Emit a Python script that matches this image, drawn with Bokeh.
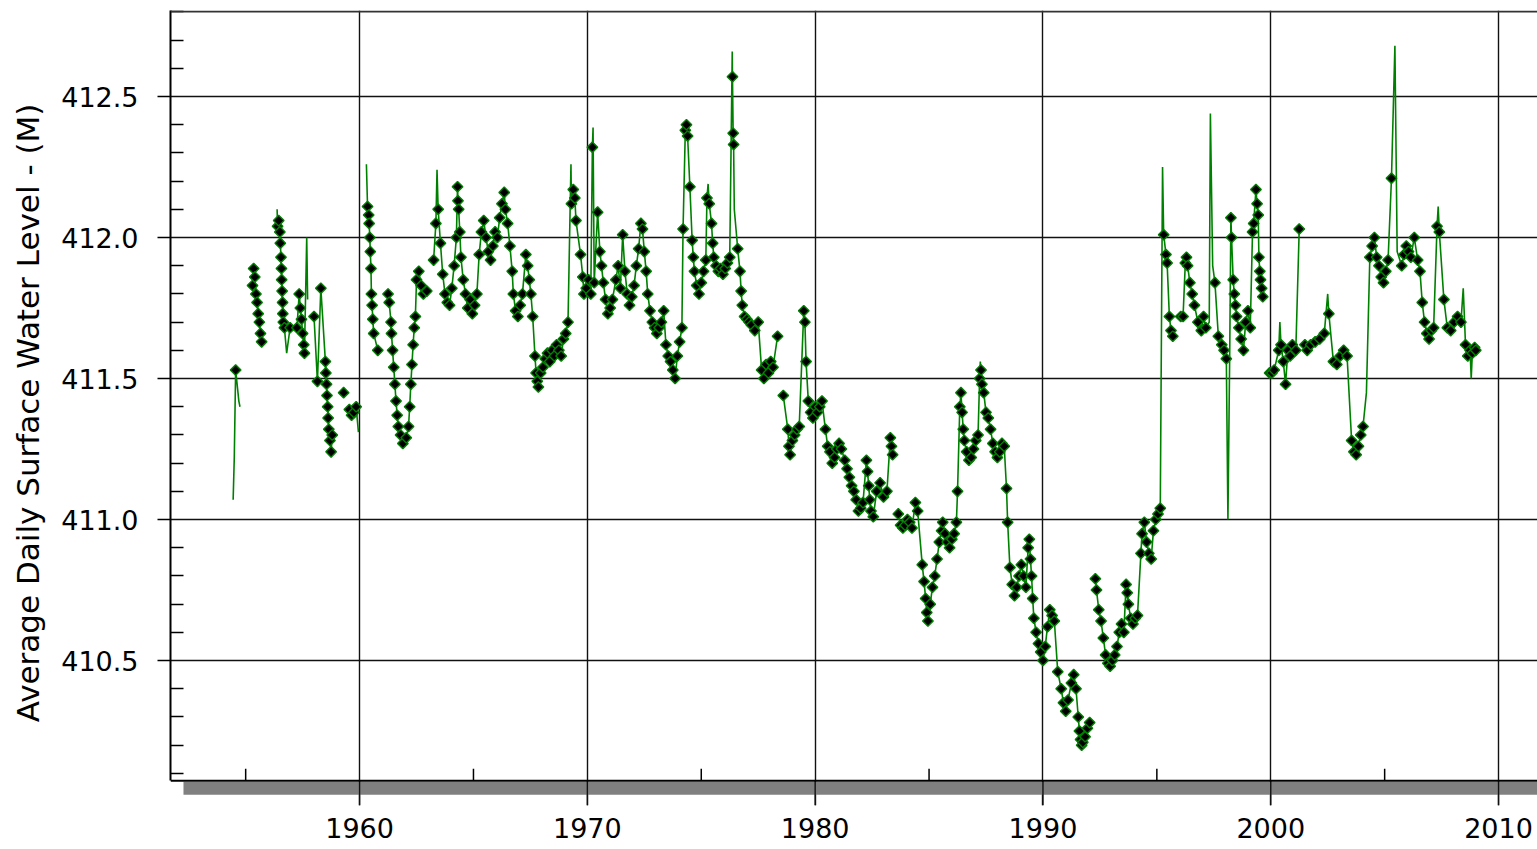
import math
from bokeh.plotting import figure
from bokeh.models import FixedTicker, Span, Range1d, PrintfTickFormatter
from bokeh.embed import file_html
from bokeh.resources import INLINE

# ---------------- ticks ----------------
x_major_ticks = [1960, 1970, 1980, 1990, 2000, 2010]
x_minor_ticks = [1955, 1965, 1975, 1985, 1995, 2005]
y_major_ticks = [410.5, 411.0, 411.5, 412.0, 412.5]
y_minor_ticks = [410.1, 410.2, 410.3, 410.4, 410.6, 410.7, 410.8, 410.9,
                 411.1, 411.2, 411.3, 411.4, 411.6, 411.7, 411.8, 411.9,
                 412.1, 412.2, 412.3, 412.4, 412.6, 412.7, 412.8]

# ---------------- data ----------------
marker_year = [
    1954.56,
    1955.30, 1955.35, 1955.40, 1955.45, 1955.50, 1955.55, 1955.60, 1955.65, 1955.70,
    1956.40, 1956.45, 1956.50, 1956.52, 1956.55, 1956.57, 1956.58, 1956.60, 1956.62, 1956.63, 1956.65, 1956.70, 1956.95,
    1957.25, 1957.35, 1957.40, 1957.45, 1957.50, 1957.55, 1957.58,
    1958.00, 1958.15, 1958.30, 1958.50, 1958.52, 1958.55, 1958.57, 1958.60, 1958.62, 1958.65, 1958.70, 1958.75, 1958.80,
    1959.30, 1959.55, 1959.65, 1959.75, 1959.85,
    1960.35, 1960.40, 1960.42, 1960.45, 1960.47, 1960.50, 1960.52, 1960.55, 1960.58, 1960.62, 1960.80,
    1961.25, 1961.30, 1961.38, 1961.40, 1961.45, 1961.50, 1961.55, 1961.60, 1961.65, 1961.70, 1961.80, 1961.90,
    1962.05, 1962.15, 1962.20, 1962.25, 1962.30, 1962.35, 1962.40, 1962.45, 1962.50, 1962.60, 1962.70, 1962.80, 1962.95,
    1963.25, 1963.35, 1963.45, 1963.55, 1963.65, 1963.75, 1963.85, 1963.95, 1964.05, 1964.15,
    1964.25, 1964.30, 1964.32, 1964.35, 1964.40, 1964.45, 1964.55, 1964.65, 1964.75, 1964.85, 1964.95, 1965.05, 1965.15,
    1965.25, 1965.35, 1965.45, 1965.55, 1965.65, 1965.75, 1965.85, 1965.95, 1966.05,
    1966.15, 1966.25, 1966.35, 1966.40, 1966.50, 1966.60, 1966.70, 1966.75, 1966.85, 1966.95, 1967.05, 1967.15,
    1967.30, 1967.38, 1967.45, 1967.52, 1967.60, 1967.70, 1967.75, 1967.80, 1967.85, 1967.95,
    1968.05, 1968.15, 1968.25, 1968.35, 1968.45, 1968.55, 1968.65, 1968.75, 1968.85, 1968.95, 1969.05, 1969.15,
    1969.30, 1969.38, 1969.45, 1969.50, 1969.70, 1969.80, 1969.85, 1969.95,
    1970.05, 1970.15, 1970.22, 1970.30, 1970.45, 1970.55, 1970.62, 1970.70, 1970.80, 1970.90, 1971.00, 1971.10, 1971.25, 1971.35,
    1971.45, 1971.55, 1971.65, 1971.75, 1971.85, 1971.95, 1972.05, 1972.15, 1972.25, 1972.35, 1972.42,
    1972.50, 1972.58, 1972.65, 1972.75, 1972.85, 1972.95, 1973.05, 1973.15, 1973.25, 1973.35, 1973.45, 1973.55, 1973.65,
    1973.75, 1973.85, 1973.95, 1974.05, 1974.15,
    1974.20, 1974.30, 1974.35, 1974.40, 1974.50, 1974.60, 1974.65, 1974.70, 1974.80, 1974.90, 1975.00, 1975.10, 1975.20,
    1975.25, 1975.35, 1975.45, 1975.50, 1975.55, 1975.65, 1975.75, 1975.85, 1975.95, 1976.05, 1976.15, 1976.25,
    1976.37, 1976.40, 1976.42, 1976.60, 1976.70, 1976.75, 1976.80, 1976.90, 1977.00, 1977.10, 1977.20, 1977.35, 1977.50,
    1977.65, 1977.75, 1977.85, 1977.95, 1978.05, 1978.15,
    1978.35, 1978.60, 1978.80, 1978.85, 1978.90, 1979.00, 1979.10, 1979.20, 1979.30,
    1979.50, 1979.55, 1979.60, 1979.70, 1979.80, 1979.90, 1980.00, 1980.10, 1980.20, 1980.30,
    1980.45, 1980.55, 1980.65, 1980.75, 1980.85, 1980.95, 1981.05, 1981.15,
    1981.30, 1981.40, 1981.50, 1981.60, 1981.70, 1981.80, 1981.90, 1982.00, 1982.10,
    1982.25, 1982.30, 1982.35, 1982.40, 1982.45, 1982.55, 1982.70, 1982.85, 1983.00, 1983.15,
    1983.30, 1983.35, 1983.40, 1983.65, 1983.75, 1983.85, 1983.95, 1984.05, 1984.15, 1984.25, 1984.40, 1984.50,
    1984.70, 1984.78, 1984.85, 1984.90, 1984.95, 1985.05, 1985.15, 1985.25, 1985.35, 1985.45, 1985.55, 1985.60,
    1985.70, 1985.80, 1985.90, 1986.00, 1986.10, 1986.20,
    1986.25, 1986.35, 1986.40, 1986.45, 1986.50, 1986.55, 1986.65, 1986.75, 1986.85, 1986.95, 1987.05, 1987.15,
    1987.22, 1987.28, 1987.32, 1987.40, 1987.50, 1987.60, 1987.70, 1987.80, 1987.90, 1988.00, 1988.10, 1988.20, 1988.30,
    1988.40, 1988.45, 1988.55, 1988.65, 1988.75, 1988.85, 1988.95, 1989.05, 1989.15, 1989.25, 1989.35, 1989.40, 1989.45, 1989.50,
    1989.55, 1989.60, 1989.70, 1989.80, 1989.90, 1990.00, 1990.10,
    1990.20, 1990.30, 1990.40, 1990.50, 1990.65, 1990.80, 1990.90, 1991.00, 1991.10, 1991.25, 1991.35, 1991.45, 1991.55,
    1991.60, 1991.65, 1991.70, 1991.75, 1991.85, 1991.95, 1992.05,
    1992.30, 1992.35, 1992.45, 1992.55, 1992.65, 1992.75, 1992.85, 1992.95, 1993.05, 1993.15, 1993.25,
    1993.35, 1993.45, 1993.55, 1993.65, 1993.70, 1993.75, 1993.85, 1993.95, 1994.05, 1994.15,
    1994.30, 1994.35, 1994.45, 1994.55, 1994.65, 1994.75, 1994.85, 1994.95, 1995.05, 1995.15,
    1995.30, 1995.40, 1995.45, 1995.55, 1995.62, 1995.70, 1996.05, 1996.15,
    1996.25, 1996.30, 1996.35, 1996.45, 1996.55, 1996.65, 1996.80, 1996.95, 1997.05, 1997.15,
    1997.55, 1997.70, 1997.85, 1997.95, 1998.05,
    1998.25, 1998.28, 1998.35, 1998.40, 1998.45, 1998.50, 1998.60, 1998.70, 1998.80, 1998.90, 1999.00, 1999.10,
    1999.20, 1999.25, 1999.35, 1999.40, 1999.45, 1999.48, 1999.52, 1999.55, 1999.60, 1999.65,
    1999.95, 2000.05, 2000.15, 2000.35, 2000.45, 2000.55, 2000.65, 2000.75, 2000.85, 2000.95, 2001.10,
    2001.25, 2001.50, 2001.60, 2001.75, 2001.95, 2002.15, 2002.35, 2002.55, 2002.75, 2002.90, 2003.05, 2003.20, 2003.35,
    2003.55, 2003.65, 2003.75, 2003.85, 2003.95, 2004.05,
    2004.35, 2004.45, 2004.55, 2004.65, 2004.75, 2004.85, 2004.95, 2005.05, 2005.15, 2005.30,
    2005.75, 2005.85, 2005.95, 2006.05, 2006.15, 2006.30, 2006.45, 2006.55,
    2006.65, 2006.75, 2006.85, 2006.95, 2007.05, 2007.15, 2007.30, 2007.40,
    2007.60, 2007.75, 2007.90, 2008.05, 2008.20, 2008.35,
    2008.55, 2008.65, 2008.75, 2008.85, 2008.95, 2009.00,
]
marker_level = [
    411.53,
    411.83, 411.89, 411.86, 411.80, 411.77, 411.73, 411.70, 411.66, 411.63,
    412.04, 412.06, 412.02, 411.98, 411.93, 411.89, 411.85, 411.81, 411.77, 411.73, 411.70, 411.68, 411.68,
    411.68, 411.80, 411.75, 411.71, 411.66, 411.62, 411.59,
    411.72, 411.49, 411.82, 411.56, 411.52, 411.48, 411.44, 411.40, 411.36, 411.32, 411.28, 411.24, 411.30,
    411.45, 411.39, 411.37, 411.38, 411.40,
    412.11, 412.08, 412.05, 412.00, 411.95, 411.89, 411.80, 411.76, 411.71, 411.66, 411.60,
    411.80, 411.77, 411.70, 411.66, 411.60, 411.54, 411.48, 411.42, 411.37, 411.33, 411.30, 411.27,
    411.29, 411.33, 411.40, 411.48, 411.55, 411.62, 411.68, 411.72, 411.85, 411.88, 411.83, 411.80, 411.81,
    411.92, 412.05, 412.10, 411.98, 411.87, 411.80, 411.77, 411.76, 411.82, 411.90,
    412.00, 412.18, 412.13, 412.10, 412.02, 411.93, 411.85, 411.80, 411.75, 411.78, 411.73, 411.76, 411.80,
    411.94, 412.02, 412.06, 412.00, 411.95, 411.92, 411.97, 412.02, 412.00,
    412.07, 412.12, 412.16, 412.10, 412.05, 411.97, 411.88, 411.80, 411.74, 411.72, 411.76, 411.80,
    411.94, 411.90, 411.85, 411.80, 411.72, 411.58, 411.52, 411.49, 411.47, 411.52,
    411.54, 411.57, 411.59, 411.56, 411.60, 411.58, 411.62, 411.60, 411.58, 411.64, 411.66, 411.70,
    412.12, 412.17, 412.14, 412.06, 411.94, 411.86, 411.80, 411.82,
    411.85, 411.80, 412.32, 411.84, 412.09, 411.95, 411.90, 411.84, 411.78, 411.73, 411.75, 411.78, 411.85, 411.90,
    411.82, 412.01, 411.88, 411.80, 411.76, 411.79, 411.83, 411.90, 411.96, 412.05, 412.03,
    411.95, 411.88, 411.80, 411.74, 411.70, 411.68, 411.66, 411.68, 411.70, 411.74, 411.62, 411.58, 411.56,
    411.53, 411.50, 411.58, 411.63, 411.68,
    412.03, 412.38, 412.40, 412.36, 412.18, 411.99, 411.93, 411.88, 411.83, 411.80, 411.84, 411.88, 411.92,
    412.14, 412.12, 412.05, 411.98, 411.93, 411.90, 411.88, 411.89, 411.87, 411.89, 411.91, 411.93,
    412.57, 412.37, 412.33, 411.96, 411.88, 411.81, 411.76, 411.72, 411.71, 411.70, 411.69, 411.67, 411.70,
    411.53, 411.50, 411.55, 411.52, 411.56, 411.54,
    411.65, 411.44, 411.32, 411.26, 411.23, 411.28, 411.30, 411.32, 411.33,
    411.74, 411.70, 411.56, 411.42, 411.38, 411.36, 411.40, 411.38, 411.40, 411.42,
    411.32, 411.26, 411.24, 411.20, 411.22, 411.25, 411.27, 411.25,
    411.21, 411.18, 411.15, 411.12, 411.10, 411.07, 411.03, 411.04, 411.06,
    411.21, 411.17, 411.12, 411.07, 411.03, 411.01, 411.10, 411.13, 411.08, 411.10,
    411.29, 411.26, 411.23, 411.02, 410.98, 410.97, 410.98, 411.00, 410.99, 410.97, 411.06, 411.03,
    410.84, 410.78, 410.72, 410.67, 410.64, 410.70, 410.76, 410.80, 410.86, 410.92, 410.96, 410.99,
    410.95, 410.92, 410.90, 410.93, 410.95, 410.99,
    411.10, 411.40, 411.45, 411.38, 411.32, 411.28, 411.24, 411.21, 411.22, 411.25, 411.28, 411.30,
    411.50, 411.53, 411.48, 411.45, 411.38, 411.36, 411.32, 411.27, 411.24, 411.22, 411.24, 411.27, 411.26,
    411.11, 410.99, 410.83, 410.77, 410.73, 410.76, 410.80, 410.84, 410.80, 410.76, 410.90, 410.93, 410.86, 410.80,
    410.72, 410.65, 410.60, 410.56, 410.53, 410.50, 410.55,
    410.62, 410.68, 410.66, 410.64, 410.46, 410.40, 410.35, 410.32, 410.36, 410.42, 410.45, 410.40, 410.30,
    410.25, 410.22, 410.20, 410.21, 410.23, 410.26, 410.28,
    410.79, 410.75, 410.68, 410.64, 410.58, 410.52, 410.49, 410.48, 410.50, 410.52, 410.55,
    410.60, 410.63, 410.60, 410.77, 410.74, 410.70, 410.65, 410.63, 410.65, 410.66,
    410.88, 410.95, 410.99, 410.92, 410.88, 410.86, 410.96, 411.00, 411.02, 411.04,
    412.01, 411.94, 411.91, 411.72, 411.67, 411.65, 411.72, 411.72,
    411.91, 411.93, 411.90, 411.84, 411.80, 411.76, 411.70, 411.67, 411.72, 411.68,
    411.84, 411.65, 411.62, 411.60, 411.57,
    412.07, 412.00, 411.85, 411.80, 411.76, 411.72, 411.68, 411.64, 411.60, 411.70, 411.74, 411.68,
    412.02, 412.05, 412.17, 412.12, 412.08, 411.93, 411.88, 411.85, 411.82, 411.79,
    411.52, 411.52, 411.53, 411.60, 411.62, 411.56, 411.48, 411.60, 411.58, 411.62, 411.60,
    412.03, 411.62, 411.60, 411.62, 411.63, 411.64, 411.66, 411.73, 411.56, 411.55, 411.58, 411.60, 411.58,
    411.28, 411.24, 411.23, 411.26, 411.30, 411.33,
    411.93, 411.97, 412.00, 411.93, 411.90, 411.86, 411.84, 411.88, 411.92, 412.21,
    411.90, 411.94, 411.97, 411.95, 411.93, 412.00, 411.92, 411.88,
    411.77, 411.70, 411.66, 411.64, 411.67, 411.68, 412.04, 412.02,
    411.78, 411.68, 411.67, 411.70, 411.72, 411.70,
    411.62, 411.58, 411.60, 411.59, 411.61, 411.60,
]

# daily-record excursions that show only as the green line
line_only_year = [1954.45, 1954.50, 1954.65, 1954.70, 1954.75, 1956.38, 1956.80, 1957.68, 1957.72,
                  1959.95, 1960.30, 1963.40, 1969.28, 1970.25, 1975.30, 1976.36, 1976.45, 1987.25,
                  1995.25, 1997.30, 1997.35, 1997.45, 1998.12, 1998.20, 2000.40, 2002.50, 2004.20,
                  2005.45, 2005.55, 2007.35, 2008.45, 2008.80]
line_only_level = [411.07, 411.22, 411.46, 411.42, 411.40, 412.10, 411.59, 412.00, 411.78,
                   411.31, 412.26, 412.24, 412.26, 412.39, 412.19, 412.66, 412.10, 411.56,
                   412.25, 411.70, 412.44, 411.90, 411.00, 411.60, 411.70, 411.80, 411.45,
                   412.68, 411.95, 412.11, 411.82, 411.50]

# ---------------- layout / style constants ----------------
X_START, X_END = 1951.70, 2011.71
Y_START, Y_END = 409.986, 412.805
FRAME_H = 795
PPM = FRAME_H / (Y_END - Y_START)
AXIS_Y = 410.074          # level of the drawn bottom axis line
BAR_LEFT = 1952.27
GREEN = "#008000"
FONT = "DejaVu Sans"

# build the line with breaks where the record has gaps
pts = sorted(zip(marker_year + line_only_year, marker_level + line_only_level))
line_x, line_y = [], []
prev = None
for yr, lv in pts:
    if prev is not None and yr - prev > 0.22:
        line_x.append(math.nan)
        line_y.append(math.nan)
    line_x.append(yr)
    line_y.append(lv)
    prev = yr

p = figure(width=1537, height=849, output_backend="svg", toolbar_location=None,
           x_range=Range1d(X_START, X_END), y_range=Range1d(Y_START, Y_END),
           min_border_left=170, min_border_right=0, min_border_top=10, min_border_bottom=44)
p.outline_line_color = None
p.background_fill_color = "white"
p.border_fill_color = "white"

# x axis: labels only (ticks and line drawn as marks below)
p.xaxis.ticker = FixedTicker(ticks=x_major_ticks)
p.xaxis.axis_line_color = None
p.xaxis.major_tick_line_color = None
p.xaxis.minor_tick_line_color = None
p.xaxis.major_tick_out = 0
p.xaxis.major_tick_in = 0
p.xaxis.minor_tick_out = 0
p.xaxis.minor_tick_in = 0
p.xaxis.major_label_standoff = 12
p.xaxis.major_label_text_font = FONT
p.xaxis.major_label_text_font_size = "27px"
p.xaxis.major_label_text_color = "black"
p.xgrid.ticker = FixedTicker(ticks=x_major_ticks)
p.xgrid.grid_line_color = "#111111"
p.xgrid.grid_line_width = 1.4

# y axis
p.yaxis.ticker = FixedTicker(ticks=y_major_ticks, minor_ticks=y_minor_ticks)
p.yaxis.formatter = PrintfTickFormatter(format="%.1f")
p.yaxis.bounds = (AXIS_Y, Y_END)
p.yaxis.axis_line_color = "black"
p.yaxis.axis_line_width = 2
p.yaxis.major_tick_out = 13
p.yaxis.major_tick_in = 0
p.yaxis.major_tick_line_width = 1.5
p.yaxis.minor_tick_in = 13
p.yaxis.minor_tick_out = 0
p.yaxis.minor_tick_line_width = 1.5
p.yaxis.minor_tick_line_color = "black"
p.yaxis.major_label_text_font = FONT
p.yaxis.major_label_text_font_size = "27px"
p.yaxis.major_label_text_color = "black"
p.yaxis.major_label_standoff = 19
p.yaxis.axis_label = "Average Daily Surface Water Level -  (M)"
p.yaxis.axis_label_text_font = FONT
p.yaxis.axis_label_text_font_size = "31px"
p.yaxis.axis_label_text_font_style = "normal"
p.yaxis.axis_label_text_color = "black"
p.yaxis.axis_label_standoff = 12
p.ygrid.ticker = FixedTicker(ticks=y_major_ticks)
p.ygrid.grid_line_color = "#111111"
p.ygrid.grid_line_width = 1.4

# gray base bar under the time axis
p.quad(left=[BAR_LEFT], right=[X_END], top=[AXIS_Y - 1 / PPM], bottom=[AXIS_Y - 14 / PPM],
       fill_color="#808080", line_color=None)
# major time ticks over the bar
p.segment(x0=x_major_ticks, y0=[Y_START] * len(x_major_ticks),
          x1=x_major_ticks, y1=[AXIS_Y] * len(x_major_ticks), line_color="#111111", line_width=1.4)
# minor time ticks
p.segment(x0=x_minor_ticks, y0=[AXIS_Y] * len(x_minor_ticks),
          x1=x_minor_ticks, y1=[AXIS_Y + 12 / PPM] * len(x_minor_ticks), line_color="black", line_width=1.5)

p.add_layout(Span(location=AXIS_Y, dimension="width", line_color="black", line_width=2))
p.add_layout(Span(location=Y_END - 1 / PPM, dimension="width", line_color="#333333", line_width=2))

# data
p.line(line_x, line_y, line_color=GREEN, line_width=1.6)
p.scatter(marker_year, marker_level, marker="square", angle=math.pi / 4, size=7.5,
          fill_color="black", line_color=GREEN, line_width=1.4)

open("out.html", "w").write(file_html(p, INLINE))
